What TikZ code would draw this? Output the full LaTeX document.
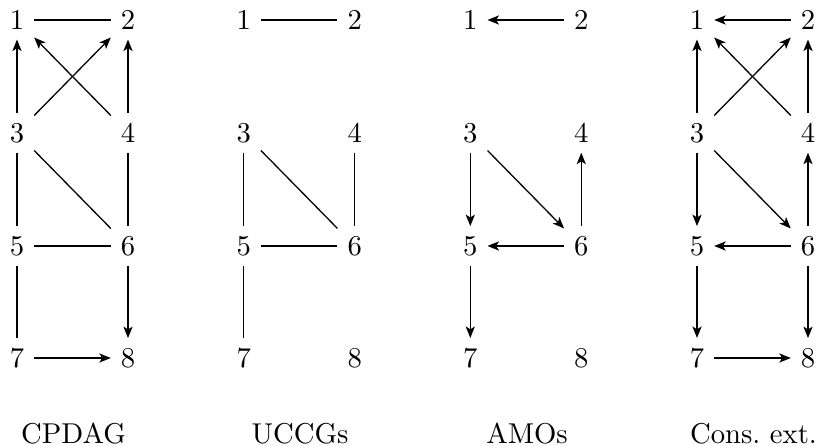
\documentclass[tikz,border=0pt]{standalone}
\usetikzlibrary{arrows.meta}
\begin{document}
\begin{tikzpicture}[x=0.01225cm,y=-0.01225cm,
  vtx/.style={inner sep=3.3pt},
  und/.style={line width=0.45pt},
  dir/.style={line width=0.45pt,-{Stealth[length=4pt,width=3.2pt,inset=1pt]}},
  caplabel/.style={inner sep=0pt}]
\useasboundingbox (0,0) rectangle (820,446);
% graph A: CPDAG
\node[vtx] (a1) at (17,20) {1};  \node[vtx] (a2) at (128,20) {2};
\node[vtx] (a3) at (17,133) {3}; \node[vtx] (a4) at (128,133) {4};
\node[vtx] (a5) at (17,246) {5}; \node[vtx] (a6) at (128,246) {6};
\node[vtx] (a7) at (17,358) {7}; \node[vtx] (a8) at (128,358) {8};
\draw[und] (a1) -- (a2);
\draw[dir] (a3) -- (a1); \draw[dir] (a4) -- (a2);
\draw[dir] (a3) -- (a2); \draw[dir] (a4) -- (a1);
\draw[und] (a3) -- (a5); \draw[und] (a3) -- (a6); \draw[und] (a4) -- (a6);
\draw[und] (a5) -- (a6); \draw[und] (a5) -- (a7);
\draw[dir] (a6) -- (a8); \draw[dir] (a7) -- (a8);
\node[caplabel] (la) at (73.5,434) {CPDAG};
% graph B: UCCGs
\node[vtx] (b1) at (243.7,20) {1};  \node[vtx] (b2) at (354.7,20) {2};
\node[vtx] (b3) at (243.7,133) {3}; \node[vtx] (b4) at (354.7,133) {4};
\node[vtx] (b5) at (243.7,246) {5}; \node[vtx] (b6) at (354.7,246) {6};
\node[vtx] (b7) at (243.7,358) {7}; \node[vtx] (b8) at (354.7,358) {8};
\draw[und] (b1) -- (b2);
\draw[und] (b3) -- (b5); \draw[und] (b3) -- (b6); \draw[und] (b4) -- (b6);
\draw[und] (b5) -- (b6); \draw[und] (b5) -- (b7);
\node[caplabel] (lb) at (300,434) {UCCGs};
% graph C: AMOs
\node[vtx] (c1) at (470.3,20) {1};  \node[vtx] (c2) at (581.3,20) {2};
\node[vtx] (c3) at (470.3,133) {3}; \node[vtx] (c4) at (581.3,133) {4};
\node[vtx] (c5) at (470.3,246) {5}; \node[vtx] (c6) at (581.3,246) {6};
\node[vtx] (c7) at (470.3,358) {7}; \node[vtx] (c8) at (581.3,358) {8};
\draw[dir] (c2) -- (c1);
\draw[dir] (c3) -- (c5); \draw[dir] (c3) -- (c6); \draw[dir] (c6) -- (c4);
\draw[dir] (c6) -- (c5); \draw[dir] (c5) -- (c7);
\node[caplabel] (lc) at (527,434) {AMOs};
% graph D: Cons. ext.
\node[vtx] (d1) at (697,20) {1};  \node[vtx] (d2) at (808,20) {2};
\node[vtx] (d3) at (697,133) {3}; \node[vtx] (d4) at (808,133) {4};
\node[vtx] (d5) at (697,246) {5}; \node[vtx] (d6) at (808,246) {6};
\node[vtx] (d7) at (697,358) {7}; \node[vtx] (d8) at (808,358) {8};
\draw[dir] (d2) -- (d1);
\draw[dir] (d3) -- (d1); \draw[dir] (d4) -- (d2);
\draw[dir] (d3) -- (d2); \draw[dir] (d4) -- (d1);
\draw[dir] (d3) -- (d5); \draw[dir] (d3) -- (d6); \draw[dir] (d6) -- (d4);
\draw[dir] (d6) -- (d5); \draw[dir] (d5) -- (d7);
\draw[dir] (d6) -- (d8); \draw[dir] (d7) -- (d8);
\node[caplabel] (ld) at (753.5,434) {Cons.\ ext.};
\end{tikzpicture}
\end{document}
